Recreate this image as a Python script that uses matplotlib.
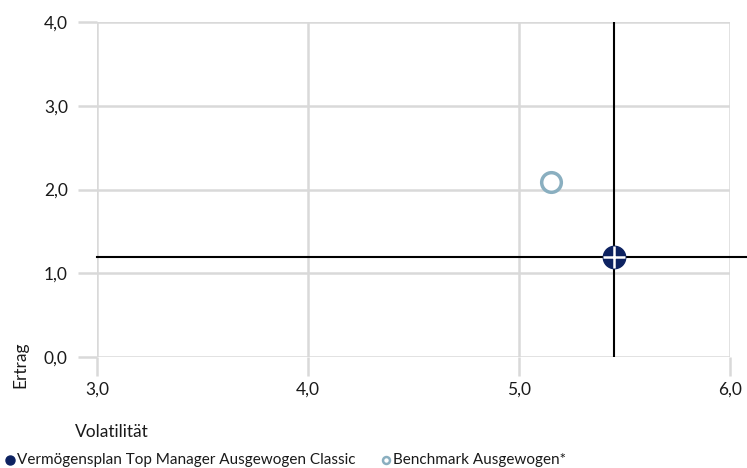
import matplotlib.pyplot as plt

plt.rcParams['font.family'] = ['Lato', 'DejaVu Sans']

fund_name = 'Vermögensplan Top Manager Ausgewogen Classic'
bench_name = 'Benchmark Ausgewogen*'
fund_vol, fund_ret = [5.45], [1.19]
bench_vol, bench_ret = [5.15], [2.09]
x_ticks = [3.0, 4.0, 5.0, 6.0]
y_ticks = [0.0, 1.0, 2.0, 3.0, 4.0]

navy = '#0d2261'
light = '#8aafc0'
grid_c = '#d9d9d9'

fig = plt.figure(figsize=(7.47, 4.68), dpi=100)
ax = fig.add_axes([97 / 747, 1 - 357 / 468, 633 / 747, 335 / 468])
ax.set_xlim(3.0, 6.0)
ax.set_ylim(0.0, 4.0)

for t in x_ticks:
    ax.axvline(t, color=grid_c, lw=1.8, zorder=0)
for t in y_ticks:
    ax.axhline(t, color=grid_c, lw=1.8, zorder=0)

for s in ax.spines.values():
    s.set_visible(False)

ax.set_xticks(x_ticks)
ax.set_yticks(y_ticks)
ax.set_xticklabels([f'{t:.1f}'.replace('.', ',') for t in x_ticks])
ax.set_yticklabels([f'{t:.1f}'.replace('.', ',') for t in y_ticks])
ax.tick_params(axis='both', length=14, width=1.8, color=grid_c, labelsize=12.5, labelcolor='#1a1a1a')
ax.tick_params(axis='x', pad=4)
ax.tick_params(axis='y', pad=7)

# crosshair through the fund point
ax.axvline(fund_vol[0], color='black', lw=1.5, zorder=2)
ax.plot([3.0, 6.1], [fund_ret[0], fund_ret[0]], color='black', lw=1.5, zorder=2, clip_on=False)

ax.scatter(bench_vol, bench_ret, s=200, facecolor='white', edgecolor=light, linewidth=2.5, zorder=3)
ax.scatter(fund_vol, fund_ret, s=260, color=navy, zorder=3)
ax.scatter(fund_vol, fund_ret, s=260, marker='+', color='white', linewidth=1.8, zorder=4)

fig.text(20 / 747, 1 - 388 / 468, 'Ertrag', rotation=90, fontsize=12.5, ha='center', va='bottom', color='#1a1a1a')
fig.text(75 / 747, 1 - 432 / 468, 'Volatilität', fontsize=12.5, ha='left', va='center', color='#1a1a1a')

# legend
fig.add_artist(plt.Line2D([10 / 747], [1 - 460 / 468], marker='o', ms=6.5, color=navy, transform=fig.transFigure))
fig.text(17 / 747, 1 - 460 / 468, fund_name, fontsize=11, va='center', color='#1a1a1a')
fig.add_artist(plt.Line2D([386 / 747], [1 - 460 / 468], marker='o', ms=5, mfc='white', mec=light, mew=1.8,
                          transform=fig.transFigure))
fig.text(393 / 747, 1 - 460 / 468, bench_name, fontsize=11, va='center', color='#1a1a1a')

fig.savefig('out.png', dpi=100)
